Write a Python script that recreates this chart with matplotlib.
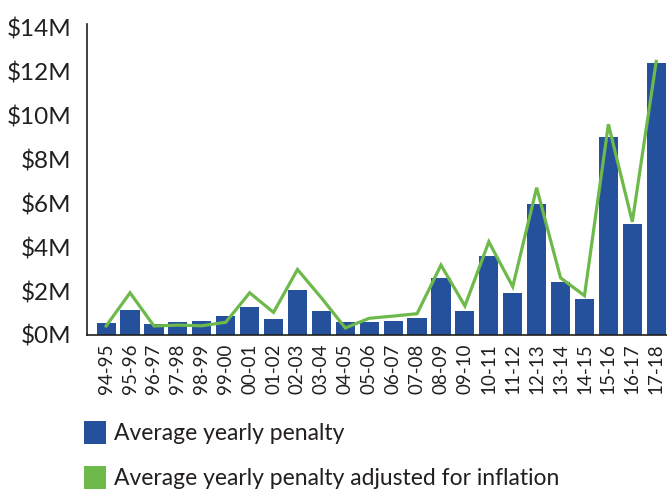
import matplotlib
matplotlib.use("Agg")
import matplotlib.pyplot as plt
from matplotlib.patches import Patch

plt.rcParams['font.family'] = ['Lato', 'DejaVu Sans']

# Fiscal years
seasons = ["94-95", "95-96", "96-97", "97-98", "98-99", "99-00", "00-01", "01-02",
           "02-03", "03-04", "04-05", "05-06", "06-07", "07-08", "08-09", "09-10",
           "10-11", "11-12", "12-13", "13-14", "14-15", "15-16", "16-17", "17-18"]

# Average yearly penalty, $M
avg_penalty = [0.56, 1.14, 0.50, 0.59, 0.64, 0.86, 1.27, 0.73,
               2.05, 1.09, 0.59, 0.59, 0.64, 0.77, 2.59, 1.09,
               3.59, 1.91, 5.95, 2.41, 1.64, 9.00, 5.05, 12.38]

# Average yearly penalty adjusted for inflation, $M
avg_penalty_adj = [0.41, 1.92, 0.41, 0.45, 0.42, 0.58, 1.92, 1.03,
                   2.98, 1.69, 0.32, 0.76, 0.86, 0.97, 3.18, 1.32,
                   4.24, 2.20, 6.70, 2.60, 1.79, 9.59, 5.15, 12.45]

yticks = [0, 2, 4, 6, 8, 10, 12, 14]
ytick_labels = ["$0M", "$2M", "$4M", "$6M", "$8M", "$10M", "$12M", "$14M"]

BLUE = "#25509c"
GREEN = "#6db94a"
TEXT = "#231f20"

fig = plt.figure(figsize=(6.67, 4.99), dpi=100)
ax = fig.add_axes([87 / 667, (499 - 335) / 499, (667 - 87) / 667, (335 - 24) / 499])

x = list(range(len(seasons)))
ax.bar(x, avg_penalty, width=0.8, color=BLUE, zorder=2)
ax.plot(x, avg_penalty_adj, color=GREEN, linewidth=2.3, zorder=3,
        solid_joinstyle="miter")

ax.set_xlim(-0.8, 23.45)
ax.set_ylim(0, 14.15)
ax.set_yticks(yticks)
ax.set_yticklabels(ytick_labels, fontsize=17.5, color=TEXT)
ax.set_xticks(x)
ax.set_xticklabels(seasons, rotation=90, fontsize=13.5, color=TEXT)
ax.tick_params(axis="both", length=0)
ax.tick_params(axis="y", pad=11)
ax.tick_params(axis="x", pad=6)

for side in ("top", "right"):
    ax.spines[side].set_visible(False)
for side in ("left", "bottom"):
    ax.spines[side].set_color(TEXT)
    ax.spines[side].set_linewidth(1.2)

handles = [Patch(facecolor=BLUE, edgecolor="none"),
           Patch(facecolor=GREEN, edgecolor="none")]
labels = ["Average yearly penalty", "Average yearly penalty adjusted for inflation"]
fig.legend(handles, labels, loc="upper left", bbox_to_anchor=(84 / 667, 1 - 421 / 499),
           frameon=False, handlelength=0.95, handleheight=1.15,
           handletextpad=0.35, labelspacing=0.95, borderaxespad=0, borderpad=0,
           labelcolor=TEXT, prop={"size": 16.5})

fig.savefig("out.png", dpi=100)
